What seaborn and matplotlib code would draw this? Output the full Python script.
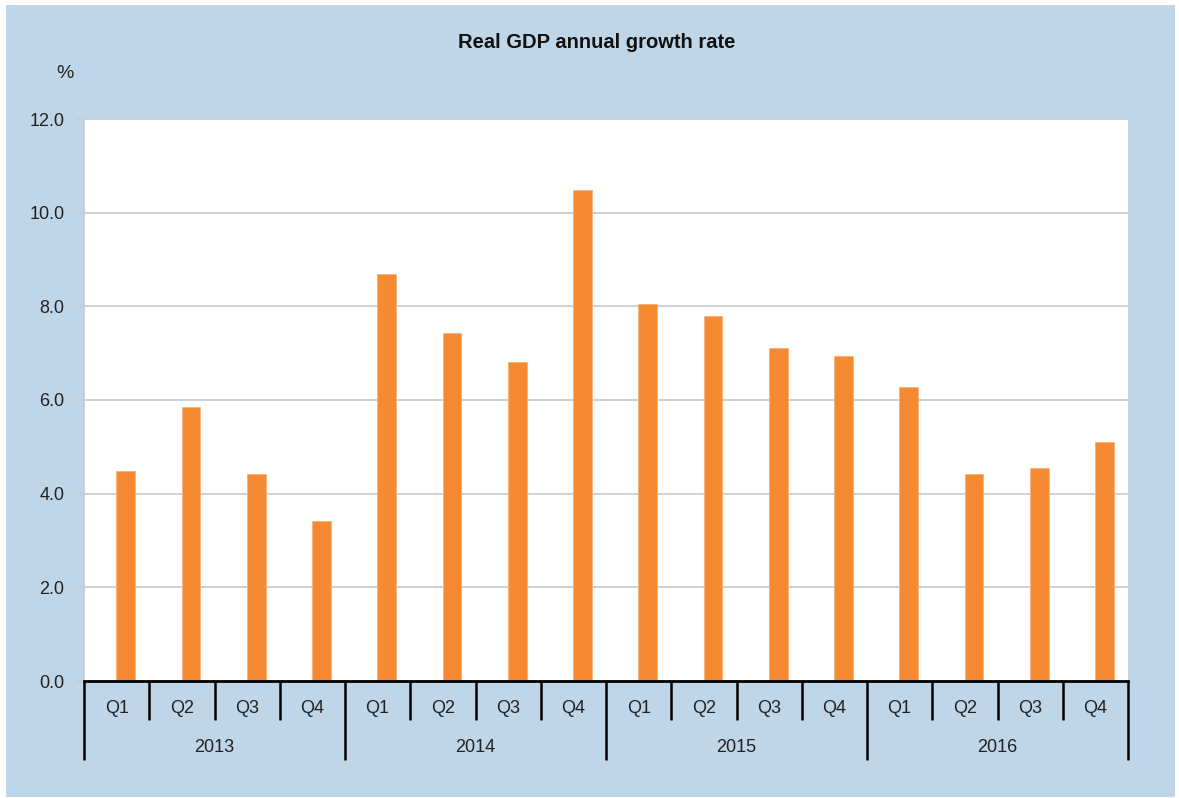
import matplotlib
matplotlib.use("Agg")
import matplotlib.pyplot as plt
import matplotlib.patches as mpatches
import seaborn as sns
import pandas as pd
import numpy as np

years = ["2013", "2014", "2015", "2016"]
quarters = ["Q1", "Q2", "Q3", "Q4"]
growth = [4.48, 5.85, 4.42, 3.42,
          8.69, 7.43, 6.81, 10.48,
          8.05, 7.79, 7.11, 6.94,
          6.28, 4.42, 4.55, 5.10]
yticks = [0.0, 2.0, 4.0, 6.0, 8.0, 10.0, 12.0]

n = len(growth)
BAR_OFFSET = 0.14  # bars sit slightly right of category centre, as in the reference
df = pd.DataFrame({"pos": np.arange(n) + BAR_OFFSET, "growth": growth})

sns.set_theme(style="white")
plt.rcParams["font.family"] = ["Liberation Sans", "DejaVu Sans"]

BLUE = "#bfd6e8"
ORANGE = "#f58a33"
W, H = 1179, 798
fig = plt.figure(figsize=(W / 100, H / 100), dpi=100, facecolor="white")
bg = mpatches.Rectangle((6 / W, 1 - 797 / H), (1175 - 6) / W, (797 - 5) / H,
                        transform=fig.transFigure, facecolor=BLUE,
                        edgecolor="none", zorder=-10)
fig.patches.append(bg)
ax = fig.add_axes([84 / W, 1 - 681 / H, (1128 - 84) / W, (681 - 119) / H])
ax.set_zorder(5)
ax.set_facecolor("white")

sns.barplot(data=df, x="pos", y="growth", color=ORANGE, saturation=1,
            native_scale=True, width=0.29, ax=ax, edgecolor="#f9b27a", linewidth=0.6)

ax.set_ylim(0, 12)
ax.set_xlim(-0.5, n - 0.5)
ax.set_yticks(yticks)
ax.set_yticklabels([f"{v:.1f}" for v in yticks], fontsize=13, color="#222222")
ax.yaxis.grid(True, color="#c9cdd1", linewidth=1.3)
ax.set_axisbelow(True)
ax.tick_params(axis="y", length=6, color="#c9cdd1", width=1.3, pad=8, left=True)

ax.set_xticks(range(n))
ax.set_xticklabels(quarters * len(years), fontsize=13, color="#222222")
ax.tick_params(axis="x", length=0, pad=14)
ax.set_xlabel("")
ax.set_ylabel("")

for s in ["top", "right"]:
    ax.spines[s].set_visible(False)
ax.spines["left"].set_color("#c9cdd1")
ax.spines["left"].set_linewidth(1.3)
ax.spines["bottom"].set_color("black")
ax.spines["bottom"].set_linewidth(2)

axh = 681 - 119
trans = ax.get_xaxis_transform()
for i in range(n + 1):
    x = i - 0.5
    depth = 79 if i % 4 == 0 else 39
    ax.plot([x, x], [0, -depth / axh], transform=trans, color="black",
            linewidth=1.8, clip_on=False, solid_capstyle="butt")
for j, y in enumerate(years):
    ax.text(j * 4 + 1.5, -66 / axh, y, transform=trans, ha="center", va="center",
            fontsize=13, color="#222222")

fig.text(597 / W, 1 - 42 / H, "Real GDP annual growth rate", ha="center", va="center",
         fontsize=14.5, fontweight="bold", color="#111111")
fig.text(65 / W, 1 - 73 / H, "%", ha="center", va="center", fontsize=14, color="#222222")

fig.savefig("out.png", dpi=100, facecolor="white")
